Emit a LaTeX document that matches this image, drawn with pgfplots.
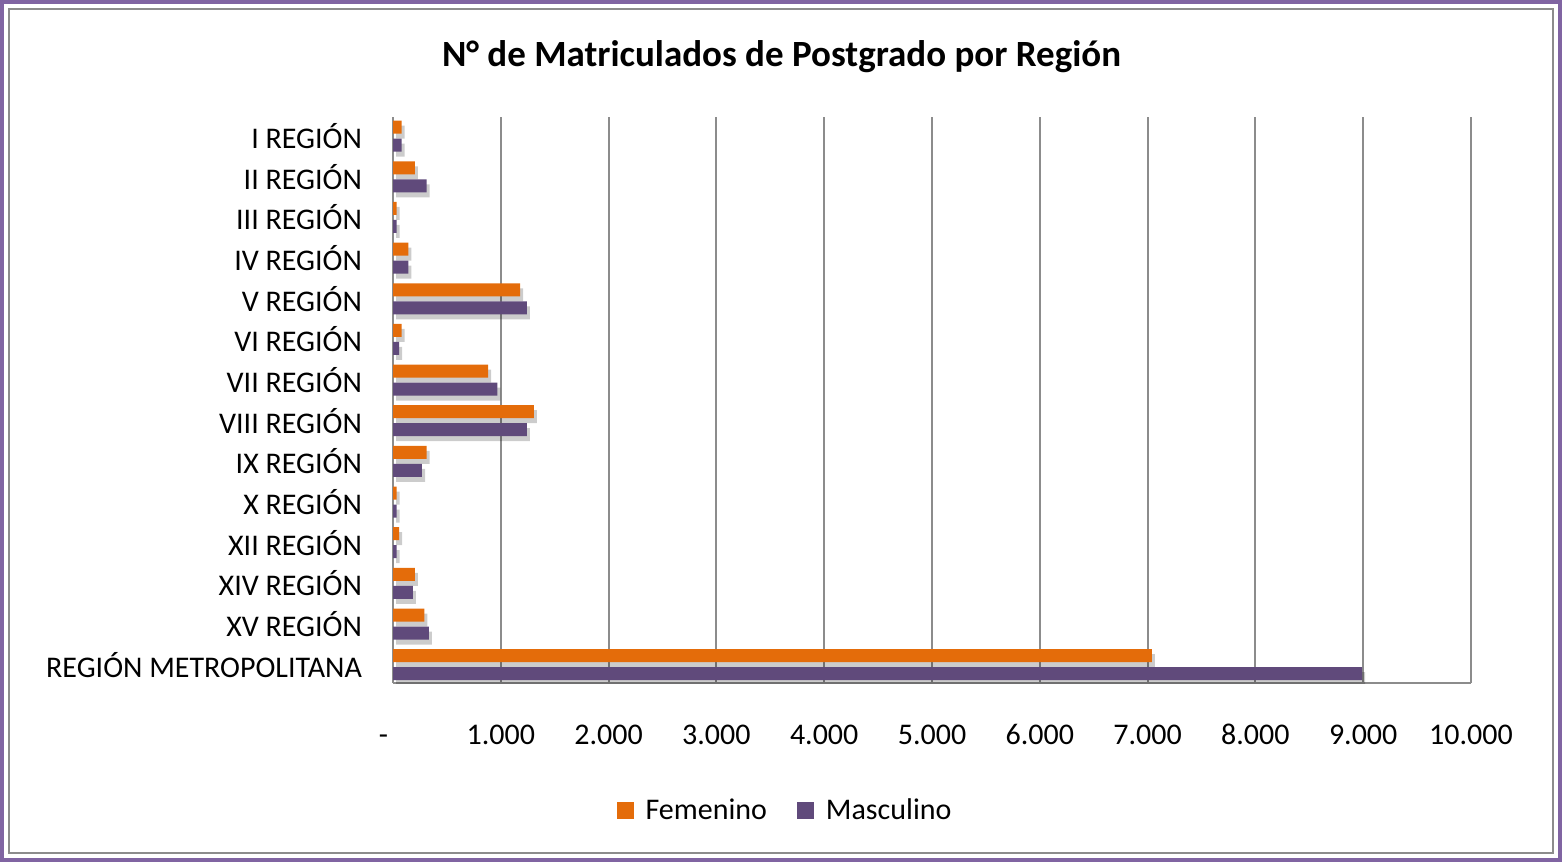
\documentclass[border=0pt]{standalone}
\usepackage{fontspec}
\setmainfont{Carlito}
\usepackage{pgfplots}
\pgfplotsset{compat=1.18}
\usetikzlibrary{shadows}

\definecolor{femcol}{HTML}{E46C0A}
\definecolor{mascol}{HTML}{604A7B}
\definecolor{framecol}{HTML}{8064A2}
\definecolor{gridcol}{HTML}{8C8C8C}

\begin{document}
\begin{tikzpicture}
  % frame of the chart area (1px = 0.5pt)
  \path (0,0) rectangle (781pt,431pt);
  \draw[framecol, line width=2pt] (1pt,1pt) rectangle (780pt,430pt);
  \draw[gridcol, line width=1pt] (4.5pt,4.5pt) rectangle (776.5pt,426.5pt);

  \node[font=\fontsize{18.5}{22}\selectfont\bfseries] at (390.75pt,402.5pt)
    {N° de Matriculados de Postgrado por Región};

  \begin{axis}[
    at={(196.5pt,89.5pt)}, anchor=south west,
    scale only axis,
    width=539pt, height=283pt,
    xbar,
    bar width=6.5pt,
    y dir=reverse,
    xmin=0, xmax=10000,
    ymin=-0.47, ymax=13.45,
    xtick={0,1000,...,10000},
    scaled x ticks=false,
    xticklabels={\llap{-\hspace{2.5pt}},1.000,2.000,3.000,4.000,5.000,6.000,7.000,8.000,9.000,10.000},
    ytick={0,...,13},
    yticklabels={I REGIÓN,II REGIÓN,III REGIÓN,IV REGIÓN,V REGIÓN,VI REGIÓN,VII REGIÓN,VIII REGIÓN,IX REGIÓN,X REGIÓN,XII REGIÓN,XIV REGIÓN,XV REGIÓN,REGIÓN METROPOLITANA},
    axis x line*=bottom,
    axis y line*=left,
    axis line style={gridcol, line width=1pt, -},
    xmajorgrids,
    major grid style={gridcol, line width=1pt},
    major tick length=0pt,
    tick label style={font=\fontsize{15}{18}\selectfont, text=black},
    xticklabel style={text height=10pt, text depth=1pt, yshift=-17pt},
    yticklabel style={xshift=-12pt},
    legend style={at={(0.3646,-0.226)}, anchor=center, draw=none,
      font=\fontsize{15}{18}\selectfont, legend columns=2,
      /tikz/every odd column/.append style={column sep=4pt},
      /tikz/every even column/.append style={column sep=13pt}},
    legend image code/.code={\fill[#1] (0pt,-4.25pt) rectangle (8.5pt,4.25pt);},
  ]
    \addlegendimage{fill=femcol, draw=none}
    \addlegendentry{Femenino}
    \addlegendimage{fill=mascol, draw=none}
    \addlegendentry{Masculino}
    \addplot[forget plot, fill=femcol, draw=none, bar shift=4.5pt,
      drop shadow={shadow xshift=1.5pt, shadow yshift=-2.5pt, fill=black, opacity=0.2}]
      coordinates {
      (80,0) (204,1) (34,2) (142,3) (1179,4) (80,5) (883,6)
      (1306,7) (312,8) (34,9) (56,10) (204,11) (290,12) (7040,13)
    };
    \addplot[forget plot, fill=mascol, draw=none, bar shift=-4.5pt,
      drop shadow={shadow xshift=1.5pt, shadow yshift=-2.5pt, fill=black, opacity=0.2}]
      coordinates {
      (80,0) (312,1) (34,2) (142,3) (1241,4) (56,5) (969,6)
      (1241,7) (269,8) (34,9) (34,10) (185,11) (333,12) (8991,13)
    };
  \end{axis}
\end{tikzpicture}
\end{document}
